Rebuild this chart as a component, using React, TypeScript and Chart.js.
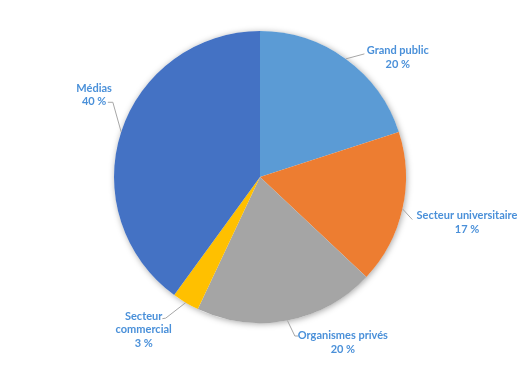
import React, { useEffect, useRef } from "react";
import { Chart, registerables } from "chart.js";

Chart.register(...registerables);

const categories = ["Grand public", "Secteur universitaire", "Organismes privés", "Secteur commercial", "Médias"];
const values = [20, 17, 20, 3, 40];
const percentLabels = ["20 %", "17 %", "20 %", "3 %", "40 %"];
const labelLines = [["Grand public"], ["Secteur universitaire"], ["Organismes privés"], ["Secteur", "commercial"], ["Médias"]];
const colors = ["#5B9BD5", "#ED7D31", "#A5A5A5", "#FFC000", "#4472C4"];

// leader line points & text block centre, as offsets from the slice's outer mid-point
const labelLayout = [
  { pts: [[18.6, -5]], text: [52, -1.5] },
  { pts: [[9.8, 10.7]], text: [64.5, 13.5] },
  { pts: [[7.5, 15.6], [10.8, 15.6]], text: [55.5, 22] },
  { pts: [[-20, 15.5], [-23.3, 16]], text: [-42, 27] },
  { pts: [[-8.3, -29.6], [-13.3, -29.6]], text: [-27, -37] },
];

const shadowPlugin = {
  id: "pieShadow",
  beforeDatasetsDraw(chart: any) {
    const meta = chart.getDatasetMeta(0);
    const a = meta.data[0];
    if (!a) return;
    const ctx = chart.ctx;
    ctx.save();
    ctx.shadowColor = "rgba(0,0,0,0.35)";
    ctx.shadowBlur = 6;
    ctx.shadowOffsetX = 1;
    ctx.shadowOffsetY = 1;
    ctx.fillStyle = "#ffffff";
    ctx.beginPath();
    ctx.arc(a.x, a.y, a.outerRadius, 0, Math.PI * 2);
    ctx.fill();
    ctx.restore();
  },
};

const labelPlugin = {
  id: "pieLabels",
  afterDatasetsDraw(chart: any) {
    const meta = chart.getDatasetMeta(0);
    const ctx = chart.ctx;
    ctx.save();
    meta.data.forEach((arc: any, i: number) => {
      const mid = (arc.startAngle + arc.endAngle) / 2;
      const ex = arc.x + Math.cos(mid) * arc.outerRadius;
      const ey = arc.y + Math.sin(mid) * arc.outerRadius;
      const lay = labelLayout[i];
      ctx.strokeStyle = "#A6A6A6";
      ctx.lineWidth = 1;
      ctx.beginPath();
      ctx.moveTo(ex, ey);
      lay.pts.forEach((p) => ctx.lineTo(ex + p[0], ey + p[1]));
      ctx.stroke();
      const lines = [...labelLines[i], percentLabels[i]];
      const lh = 13.5;
      const cx = ex + lay.text[0];
      const cy = ey + lay.text[1];
      ctx.fillStyle = "#4A90D9";
      ctx.font = "bold 11px Lato, 'Open Sans', sans-serif";
      ctx.textAlign = "center";
      ctx.textBaseline = "middle";
      lines.forEach((t, k) => {
        ctx.fillText(t, cx, cy + (k - (lines.length - 1) / 2) * lh);
      });
    });
    ctx.restore();
  },
};

export default function App() {
  const ref = useRef<HTMLCanvasElement>(null);
  useEffect(() => {
    if (!ref.current) return;
    const chart = new Chart(ref.current, {
      type: "pie",
      data: {
        labels: categories,
        datasets: [
          {
            data: values,
            backgroundColor: colors,
            borderWidth: 0,
          },
        ],
      },
      options: {
        responsive: false,
        animation: false,
        layout: { padding: { left: 113, right: 113, top: 31, bottom: 44 } },
        plugins: {
          legend: { display: false },
          tooltip: { enabled: false },
        },
      },
      plugins: [shadowPlugin, labelPlugin],
    });
    return () => chart.destroy();
  }, []);
  return (
    <div style={{ position: "absolute", left: 0, top: 0, width: 520, height: 367, background: "#fff" }}>
      <canvas ref={ref} width={520} height={367} style={{ width: 520, height: 367, display: "block" }} />
    </div>
  );
}
